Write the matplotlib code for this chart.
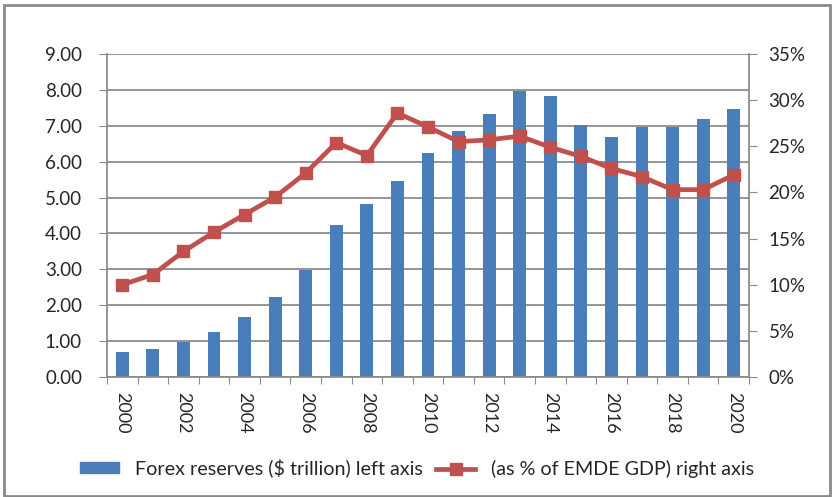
import matplotlib
matplotlib.use("Agg")
import matplotlib.pyplot as plt
from matplotlib.patches import Rectangle
from matplotlib.lines import Line2D
from matplotlib.ticker import FuncFormatter, MultipleLocator

plt.rcParams['font.family'] = ['Lato', 'DejaVu Sans']

years = list(range(2000, 2021))
reserves = [0.70, 0.78, 0.98, 1.24, 1.66, 2.22, 2.98, 4.23, 4.83, 5.46,
            6.23, 6.86, 7.33, 7.97, 7.83, 7.02, 6.68, 6.97, 6.97, 7.18, 7.47]
pct_gdp = [10.0, 11.1, 13.6, 15.7, 17.6, 19.5, 22.1, 25.4, 24.0, 28.6,
           27.1, 25.5, 25.7, 26.1, 24.9, 23.9, 22.6, 21.7, 20.3, 20.3, 21.9]
bar_label = "Forex reserves ($ trillion) left axis"
line_label = "(as % of EMDE GDP) right axis"

BLUE = "#4a7ebb"
RED = "#c0504d"
GRID = "#8c8c8c"
TEXT = "#262626"
FS = 13

fig = plt.figure(figsize=(8.34, 4.97), dpi=100)
fig.patch.set_facecolor("white")

# outer chart frame
fig.add_artist(Rectangle((4 / 834, 1 / 497), 826 / 834, 491 / 497,
                         transform=fig.transFigure, fill=False,
                         edgecolor="#8a8a8a", linewidth=2))

ax = fig.add_axes([107 / 834, 120 / 497, 642 / 834, 323 / 497])
x = list(range(len(years)))
ax.bar(x, reserves, width=0.42, color=BLUE, zorder=2)
ax.set_xlim(-0.5, len(years) - 0.5)
ax.set_ylim(0, 9)
ax.yaxis.set_major_locator(MultipleLocator(1))
ax.yaxis.set_major_formatter(FuncFormatter(lambda v, p: f"{v:.2f}"))
ax.grid(axis="y", color=GRID, linewidth=1.3, zorder=0)
ax.set_axisbelow(True)

for s in ("top", "right"):
    ax.spines[s].set_visible(False)
ax.spines["left"].set_color(GRID)
ax.spines["bottom"].set_color(GRID)
ax.spines["left"].set_linewidth(1.3)
ax.spines["bottom"].set_linewidth(1.3)

# category boundary ticks on the x axis, labels every other year
ax.set_xticks([i - 0.5 for i in range(len(years) + 1)])
ax.set_xticklabels([])
ax.set_xticks(x[::2], minor=True)
ax.set_xticklabels([str(y) for y in years[::2]], minor=True,
                   rotation=-90, fontsize=FS, color=TEXT)
ax.tick_params(axis="x", which="major", length=5, color=GRID, direction="out")
ax.tick_params(axis="x", which="minor", length=0, pad=11)
ax.tick_params(axis="y", length=6, color=GRID, labelsize=FS + 0.5,
               labelcolor=TEXT, pad=12)

ax2 = ax.twinx()
ax2.plot(x, pct_gdp, color=RED, linewidth=3.4, marker="s", markersize=8.5,
         markerfacecolor=RED, markeredgecolor=RED, zorder=3)
ax2.set_ylim(0, 35)
ax2.yaxis.set_major_locator(MultipleLocator(5))
ax2.yaxis.set_major_formatter(FuncFormatter(lambda v, p: f"{v:.0f}%"))
for s in ("top", "left", "bottom"):
    ax2.spines[s].set_visible(False)
ax2.spines["right"].set_color(GRID)
ax2.spines["right"].set_linewidth(1.3)
ax2.tick_params(axis="y", length=6, color=GRID, labelsize=FS + 0.5,
                labelcolor=TEXT, pad=8)

handles = [Rectangle((0, 0), 1, 1, color=BLUE),
           Line2D([0], [0], color=RED, linewidth=3.4, marker="s",
                  markersize=8.5)]
fig.legend(handles, [bar_label, line_label], loc="center left",
           bbox_to_anchor=(80 / 834, 0.058), ncol=2, frameon=False,
           fontsize=14.2, handlelength=2.0, handleheight=0.42,
           columnspacing=0.65, handletextpad=0.8, labelcolor=TEXT,
           borderpad=0, borderaxespad=0)

fig.savefig("out.png", dpi=100, facecolor="white")
